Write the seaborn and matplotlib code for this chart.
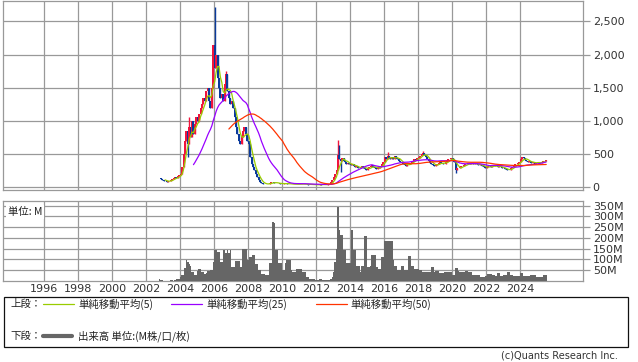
import numpy as np
import pandas as pd
import seaborn as sns
import matplotlib.pyplot as plt
from matplotlib.patches import Rectangle

# Monthly closes, Oct 2002 .. Jul 2025
close = [
    130, 120, 110,                                                          # 2002 (Oct-Dec)
    95, 85, 80, 85, 95, 110, 120, 130, 150, 140, 160, 175,                  # 2003
    200, 300, 500, 700, 850, 650, 900, 750, 1000, 800, 950, 1050,           # 2004
    1000, 1100, 1200, 1250, 1350, 1300, 1450, 1500, 1300, 1200, 1500, 2150, # 2005
    1800, 2000, 1650, 1500, 1350, 1400, 1300, 1550, 1700, 1450, 1350, 1250, # 2006
    1300, 1200, 1050, 900, 800, 700, 650, 750, 850, 900, 800, 700,          # 2007
    650, 450, 350, 300, 250, 200, 150, 110, 80, 55, 45, 45,                 # 2008
    50, 45, 50, 60, 70, 75, 65, 60, 55, 55, 50, 50,                         # 2009
    50, 55, 55, 50, 45, 45, 45, 42, 40, 40, 42, 45,                         # 2010
    45, 48, 42, 40, 40, 40, 38, 36, 35, 35, 34, 33,                         # 2011
    35, 36, 40, 38, 36, 35, 35, 38, 40, 50, 70, 100,                        # 2012
    150, 200, 260, 480, 420, 390, 440, 400, 380, 350, 360, 340,             # 2013
    330, 350, 320, 300, 310, 290, 280, 300, 320, 290, 270, 260,             # 2014
    280, 300, 310, 330, 300, 280, 270, 300, 290, 310, 350, 380,             # 2015
    450, 430, 470, 440, 420, 450, 430, 470, 440, 420, 400, 380,             # 2016
    360, 340, 330, 320, 350, 340, 360, 380, 400, 420, 410, 440,             # 2017
    440, 470, 500, 520, 480, 450, 420, 400, 370, 340, 330, 320,             # 2018
    330, 340, 360, 380, 370, 340, 350, 380, 400, 420, 430, 440,             # 2019
    420, 380, 250, 280, 290, 300, 310, 320, 330, 340, 350, 360,             # 2020
    350, 360, 340, 350, 360, 340, 330, 340, 330, 310, 300, 290,             # 2021
    300, 310, 320, 300, 310, 320, 330, 320, 300, 310, 300, 290,             # 2022
    280, 270, 260, 250, 260, 280, 300, 320, 340, 350, 360, 380,             # 2023
    420, 450, 440, 410, 400, 380, 390, 370, 360, 380, 350, 370,             # 2024
    380, 370, 360, 380, 390, 400, 410,                                      # 2025
]

# Monthly volume in millions, same months
volume = [
    7, 5, 3,
    2, 2, 2, 2, 2, 3, 3, 2, 5, 8, 10, 10,
    20, 28, 30, 60, 96, 90, 77, 70, 41, 41, 30, 30,
    45, 57, 57, 41, 41, 33, 35, 46, 46, 50, 50, 90,
    142, 142, 135, 135, 88, 88, 145, 145, 130, 145, 130, 145,
    64, 64, 64, 91, 91, 91, 64, 64, 147, 147, 147, 96,
    96, 111, 111, 123, 123, 80, 80, 50, 50, 33, 33, 33,
    26, 26, 26, 83, 83, 275, 270, 142, 142, 83, 83, 83,
    50, 50, 85, 96, 96, 96, 50, 41, 41, 41, 57, 57,
    57, 57, 41, 41, 41, 18, 18, 9, 9, 9, 9, 6,
    6, 6, 10, 10, 6, 6, 6, 6, 6, 6, 8, 20,
    41, 90, 150, 345, 236, 212, 212, 144, 144, 86, 86, 86,
    86, 236, 144, 144, 68, 68, 68, 41, 72, 72, 210, 210,
    64, 64, 72, 120, 120, 120, 64, 64, 57, 57, 113, 113,
    184, 184, 184, 184, 184, 184, 99, 72, 72, 53, 53, 53,
    72, 72, 53, 53, 53, 116, 116, 72, 72, 57, 57, 57,
    57, 53, 53, 41, 41, 41, 41, 41, 41, 64, 64, 41,
    46, 46, 46, 37, 37, 37, 41, 41, 41, 41, 41, 41,
    26, 26, 60, 60, 46, 41, 41, 41, 41, 46, 46, 41,
    41, 41, 30, 30, 30, 30, 26, 26, 18, 18, 18, 21,
    21, 33, 33, 33, 26, 26, 21, 21, 37, 37, 21, 21,
    26, 26, 26, 41, 41, 30, 30, 21, 21, 21, 21, 21,
    37, 37, 21, 21, 21, 21, 21, 30, 30, 26, 26, 18,
    18, 18, 18, 18, 26, 26, 26,
]

# Wicks beyond the candle bodies
wick_high_month = ["2004-07", "2006-01", "2006-09", "2013-04", "2013-05", "2016-03", "2018-04"]
wick_high_value = [1060, 2720, 1750, 707, 630, 530, 550]
wick_low_month = ["2004-06", "2013-06", "2020-03"]
wick_low_value = [450, 230, 205]

price_ticks = [0, 500, 1000, 1500, 2000, 2500]
volume_ticks = [50, 100, 150, 200, 250, 300, 350]
year_ticks = list(range(1996, 2025, 2))

legend_labels = ["単純移動平均(5)", "単純移動平均(25)", "単純移動平均(50)"]

UP = "#f0143c"
DOWN = "#0a3a9c"
MA_COLORS = ["#99cc00", "#9900ff", "#ff3300"]
GRID = "#999999"
VOL = "#666666"

dates = pd.date_range("2002-10-01", periods=len(close), freq="MS")
df = pd.DataFrame({"date": dates, "close": close, "volume": volume})
df["x"] = df["date"].dt.year + (df["date"].dt.month - 0.5) / 12
df["open"] = df["close"].shift(1).fillna(df["close"])
df["high"] = df[["open", "close"]].max(axis=1)
df["low"] = df[["open", "close"]].min(axis=1)
key = df["date"].dt.strftime("%Y-%m")
for m, v in zip(wick_high_month, wick_high_value):
    df.loc[key == m, "high"] = v
for m, v in zip(wick_low_month, wick_low_value):
    df.loc[key == m, "low"] = v
for n in (5, 25, 50):
    df[f"ma{n}"] = df["close"].rolling(n).mean()

sns.set_style("white")
plt.rcParams["font.family"] = ["DejaVu Sans", "Noto Sans CJK JP"]

W, H = 638, 362
fig = plt.figure(figsize=(W / 100, H / 100), dpi=100)
fig.patch.set_facecolor("white")

x0, x1 = 3, 583
ax1 = fig.add_axes([x0 / W, 1 - 190 / H, (x1 - x0) / W, 189.5 / H])
ax2 = fig.add_axes([x0 / W, 1 - 281 / H, (x1 - x0) / W, 80 / H])

xlim = (1996 - 41 / 17, 1996 + 539 / 17)

# --- price panel (candles + moving averages)
up = df["close"] >= df["open"]
colors = np.where(up, UP, DOWN)
ax1.vlines(df["x"], df["low"], df["high"], colors=colors, lw=1, zorder=3)
ax1.bar(df["x"], (df["close"] - df["open"]).abs().clip(lower=8), bottom=df[["open", "close"]].min(axis=1),
        width=0.12, color=colors, linewidth=0, zorder=3)
for n, c in zip((5, 25, 50), MA_COLORS):
    d = df.dropna(subset=[f"ma{n}"])
    sns.lineplot(data=d, x="x", y=f"ma{n}", color=c, lw=0.9, ax=ax1, legend=False,
                 estimator=None, zorder=4)

ax1.set_xlim(*xlim)
ax1.set_ylim(-45, 2816)
ax1.set_yticks(price_ticks)
ax1.set_yticklabels([f"{v:,}" for v in price_ticks])
ax1.set_xticks(year_ticks)
ax1.set_xticklabels([])

# --- volume panel
x_first = df["x"].iloc[0] - 1 / 24
x_last = df["x"].iloc[-1] + 1 / 24
sns.histplot(data=df, x="x", weights="volume", binwidth=1 / 12, binrange=(x_first, x_last),
             color=VOL, alpha=1, linewidth=0, ax=ax2, zorder=3)
ax2.set_xlim(*xlim)
ax2.set_ylim(0, 372)
ax2.set_yticks(volume_ticks)
ax2.set_yticklabels([f"{v}M" for v in volume_ticks])
ax2.set_xticks(year_ticks)
ax2.set_xticklabels([str(y) for y in year_ticks])
ax2.text(0.008, 0.86, "単位: M", transform=ax2.transAxes, fontsize=7.5, color="#222",
         family=["Noto Sans CJK JP", "DejaVu Sans"], va="center", ha="left", zorder=6,
         bbox=dict(facecolor="white", edgecolor="none", pad=1.5))

for ax in (ax1, ax2):
    ax.set_xlabel("")
    ax.set_ylabel("")
    ax.yaxis.tick_right()
    ax.grid(True, color=GRID, lw=0.9)
    ax.set_axisbelow(True)
    for s in ax.spines.values():
        s.set_color(GRID)
        s.set_linewidth(0.9)
    ax.tick_params(axis="y", length=5, width=0.9, color=GRID, labelsize=8, labelcolor="#333", pad=2)
    ax.tick_params(axis="x", length=0, labelsize=8, labelcolor="#333", pad=2.5)

# --- legend area (pixel coordinates)
ax0 = fig.add_axes([0, 0, 1, 1])
ax0.set_xlim(0, W)
ax0.set_ylim(H, 0)
ax0.axis("off")
ax0.add_patch(Rectangle((3.5, 296.5), 624, 50.5, fill=False, edgecolor="#111", lw=0.9))
jp = ["Noto Sans CJK JP", "DejaVu Sans"]
ax0.text(10, 304, "上段：", fontsize=7.5, family=jp, va="center", color="#222")
for (lx, tx), lab, c in zip([(43, 78), (171, 206), (316, 350)], legend_labels, MA_COLORS):
    ax0.plot([lx, lx + 31], [304, 304], color=c, lw=0.9)
    ax0.text(tx, 304, lab, fontsize=7.5, family=jp, va="center", color="#222")
ax0.text(10, 336, "下段：", fontsize=7.5, family=jp, va="center", color="#222")
ax0.plot([43, 72], [336, 336], color=VOL, lw=3)
ax0.text(78, 336, "出来高 単位:(M株/口/枚)", fontsize=7.5, family=jp, va="center", color="#222")
ax0.text(618, 356, "(c)Quants Research Inc.", fontsize=7, va="center", ha="right", color="#333")

fig.savefig("out.png", dpi=100)
